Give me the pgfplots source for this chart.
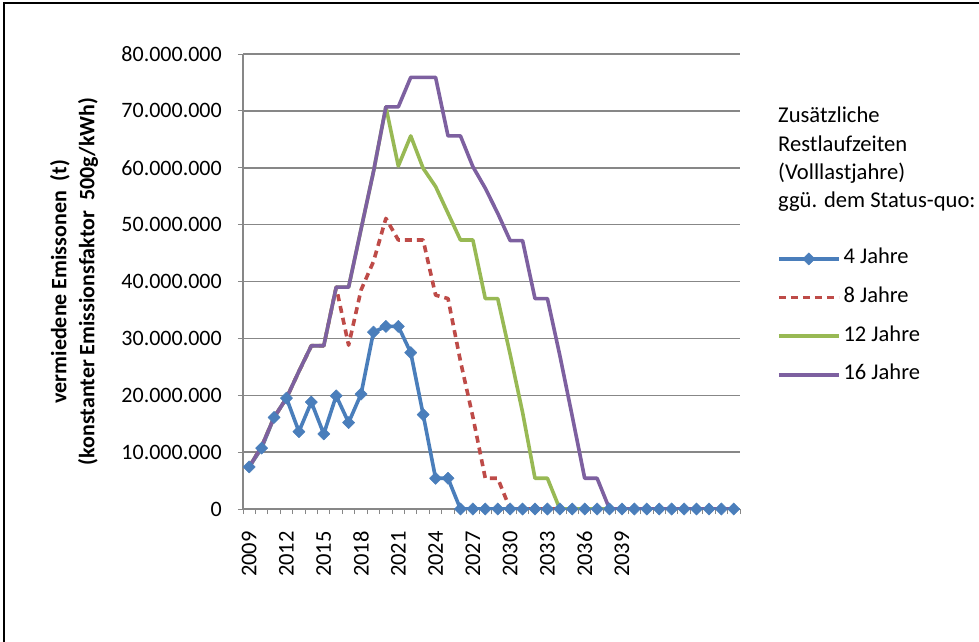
\documentclass[border=0pt]{standalone}
\usepackage{fontspec}
\setmainfont{Carlito}
\usepackage{pgfplots}
\pgfplotsset{compat=1.18}
\definecolor{cblue}{HTML}{4A7EBB}
\definecolor{cred}{HTML}{BE4B48}
\definecolor{cgreen}{HTML}{98B954}
\definecolor{cpurple}{HTML}{7D60A0}
\definecolor{cgrid}{HTML}{878787}
\pgfplotstableread{
idx four eight twelve sixteen
0  7.4  7.4  7.4  7.4
1  10.7 11.0 11.0 11.0
2  16.1 16.1 16.1 16.1
3  19.5 19.5 19.5 19.5
4  13.6 24.2 24.2 24.2
5  18.8 28.7 28.7 28.7
6  13.2 28.7 28.7 28.7
7  19.9 39.0 39.0 39.0
8  15.2 28.8 39.0 39.0
9  20.2 38.5 49.2 49.2
10 31.1 43.5 59.3 59.3
11 32.1 51.1 70.7 70.7
12 32.1 47.3 60.3 70.7
13 27.5 47.3 65.6 75.9
14 16.6 47.3 59.9 75.9
15 5.4  37.6 56.7 75.9
16 5.4  37.0 52.0 65.6
17 0    26.0 47.3 65.6
18 0    16.2 47.3 60.2
19 0    5.4  37.0 56.4
20 0    5.4  37.0 52.0
21 0    0    27.2 47.2
22 0    0    17.0 47.2
23 0    0    5.4  37.0
24 0    0    5.4  37.0
25 0    0    0    27.0
26 0    0    0    16.3
27 0    0    0    5.4
28 0    0    0    5.4
29 0    0    0    0
30 0    0    0    0
31 0    0    0    0
32 0    0    0    0
33 0    0    0    0
34 0    0    0    0
35 0    0    0    0
36 0    0    0    0
37 0    0    0    0
38 0    0    0    0
39 0    0    0    0
}\datatable
\begin{document}
\begin{tikzpicture}[x=1pt,y=1pt]
\useasboundingbox (0,0) rectangle (979,641);
\draw[black, line width=1.5pt] (4,-2) -- (4,638) -- (981,638);
\node[anchor=north west, inner sep=0pt, align=left, font=\fontsize{22.6}{28.3}\selectfont] at (778,534) {Zusätzliche\\Restlaufzeiten\\(Volllastjahre)\\ggü. dem Status-quo:};
\begin{axis}[
  at={(243pt,132pt)}, anchor=south west,
  scale only axis, width=497pt, height=455pt,
  xmin=-0.5, xmax=39.5, ymin=0, ymax=80,
  axis lines*=left,
  axis line style={cgrid, line width=1.5pt},
  ymajorgrids,
  grid style={cgrid, line width=1.5pt},
  tick style={cgrid, line width=1pt},
  tick align=outside,
  major tick length=5pt,
  ytick={0,10,...,80},
  yticklabels={0,10.000.000,20.000.000,30.000.000,40.000.000,50.000.000,60.000.000,70.000.000,80.000.000},
  yticklabel style={font=\fontsize{22}{25}\selectfont, anchor=east, inner sep=0pt, xshift=-16pt},
  xtick={-0.5,0.5,...,39.5},
  xticklabels={},
  xticklabel style={text opacity=0},
  xticklabel shift=17pt,
  extra x ticks={0,3,...,30},
  extra x tick labels={2009,2012,2015,2018,2021,2024,2027,2030,2033,2036,2039},
  extra x tick style={tick style={draw=none}, xticklabel style={text opacity=1, rotate=90, anchor=east, inner sep=0pt, font=\fontsize{22.5}{25}\selectfont}},
  ylabel={vermiedene Emissonen~~(t)\\(konstanter Emissionsfaktor~~500g/kWh)},
  ylabel style={at={(axis description cs:-0.34,0.5)}, anchor=center, align=center, font=\bfseries\fontsize{22}{28}\selectfont},
  legend style={at={(1.074,0.572)}, anchor=north west, draw=none, fill=none, inner sep=0pt, row sep=18.6pt, column sep=3pt, font=\fontsize{22.5}{25}\selectfont, nodes={inner sep=0pt, text height=15pt, text depth=5pt}},
  legend cell align=left,
  legend image code/.code={\draw[#1, mark repeat=2, mark phase=2] plot coordinates {(0pt,0pt) (30pt,0pt) (60pt,0pt)};},
  every axis plot/.append style={line width=3.6pt, line join=round},
]
\addplot[cblue, mark=square*, mark size=4.3pt, mark options={solid, rotate=45, line width=0.5pt}] table[x=idx, y=four] {\datatable};
\addlegendentry{4 Jahre}
\addplot[cred, dash pattern=on 7pt off 5pt] table[x=idx, y=eight] {\datatable};
\addlegendentry{8 Jahre}
\addplot[cgreen] table[x=idx, y=twelve] {\datatable};
\addlegendentry{12 Jahre}
\addplot[cpurple] table[x=idx, y=sixteen] {\datatable};
\addlegendentry{16 Jahre}
\end{axis}
\end{tikzpicture}
\end{document}
